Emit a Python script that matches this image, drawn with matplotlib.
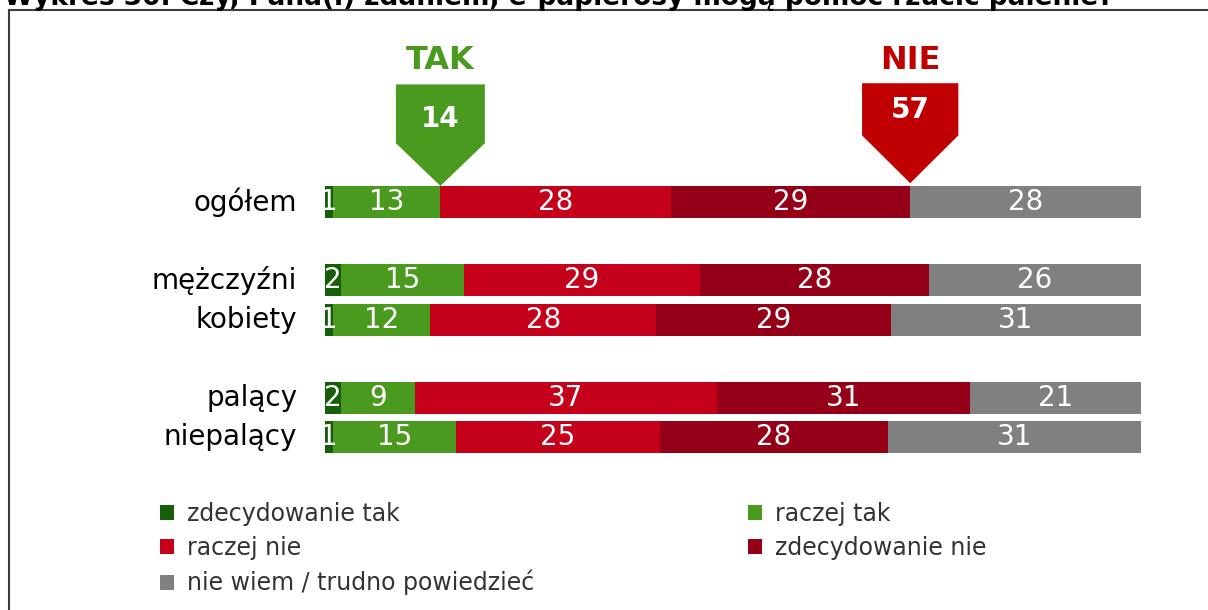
import matplotlib.pyplot as plt
import numpy as np
from matplotlib.patches import Polygon, Patch
from matplotlib.lines import Line2D

plt.rcParams['font.family'] = ['DejaVu Sans']

title = 'Wykres 30. Czy, Pana(i) zdaniem, e-papierosy mogą pomóc rzucić palenie?'
groups = ['ogółem', 'mężczyźni', 'kobiety', 'palący', 'niepalący']
rows = [0, 2, 3, 5, 6]
answers = ['zdecydowanie tak', 'raczej tak', 'raczej nie',
           'zdecydowanie nie', 'nie wiem / trudno powiedzieć']
colors = ['#175e0b', '#4a9a20', '#c4001a', '#950018', '#808080']
values = np.array([
    [1, 13, 28, 29, 28],
    [2, 15, 29, 28, 26],
    [1, 12, 28, 29, 31],
    [2, 9, 37, 31, 21],
    [1, 15, 25, 28, 31],
])

W, H = 1208, 610
fig = plt.figure(figsize=(W / 100, H / 100), dpi=100)
ax = fig.add_axes([325 / W, (H - 476.4) / H, 816 / W, 313.6 / H])
ax.set_xlim(0, 100)
ax.set_ylim(7, -1)
ax.axis('off')

# stacked bars, each row scaled to 100%
shares = values / values.sum(axis=1, keepdims=True) * 100
for r, (row, sh, val) in enumerate(zip(rows, shares, values)):
    left = 0
    for k in range(len(answers)):
        ax.barh(row, sh[k], left=left, height=0.82, color=colors[k], edgecolor='none')
        ax.text(left + sh[k] / 2, row, str(val[k]), ha='center', va='center',
                color='white', fontsize=20)
        left += sh[k]
    ax.text(-3.4, row, groups[r], ha='right', va='center', fontsize=20, color='black')

# TAK / NIE markers on the first row
cum = np.cumsum(shares[0])
tak_total = values[0, :2].sum()
nie_total = values[0, 2:4].sum()
markers = [
    (cum[1], 5.45, -3.0, -1.5, -0.41, '#4a9a20', 'TAK', tak_total, -2.12),
    (cum[3], 5.9, -3.03, -1.7, -0.48, '#c00000', 'NIE', nie_total, -2.35),
]
for x, hw, top, sh_y, tip, col, lab, tot, ny in markers:
    poly = Polygon([(x - hw, top), (x + hw, top), (x + hw, sh_y), (x, tip), (x - hw, sh_y)],
                   closed=True, facecolor=col, edgecolor='none', clip_on=False)
    ax.add_patch(poly)
    ax.text(x, -3.62, lab, ha='center', va='center', color=col, fontsize=23,
            fontweight='bold', clip_on=False)
    ax.text(x, ny, str(tot), ha='center', va='center', color='white', fontsize=20,
            fontweight='bold', clip_on=False)

# cut-off title and frame
fig.text(4 / W, 1 - 5 / H, title, ha='left', va='baseline', fontsize=19,
         fontweight='bold', color='black')
fig.add_artist(Line2D([9 / W, 9 / W], [0, 1 - 10 / H], color='#3c3c3c', lw=1.5))
fig.add_artist(Line2D([9 / W, 1], [1 - 10 / H, 1 - 10 / H], color='#3c3c3c', lw=1.5))

order = [0, 2, 4, 1, 3]
handles = [Patch(facecolor=colors[i], edgecolor='none') for i in order]
labels = [answers[i] for i in order]
fig.legend(handles, labels, loc='upper left', bbox_to_anchor=(160 / W, 1 - 502 / H),
           ncol=2, frameon=False, fontsize=17, handlelength=0.6, handleheight=0.6,
           handletextpad=0.55, columnspacing=9.05, labelspacing=0.42, labelcolor='#333333',
           borderaxespad=0, borderpad=0)

fig.savefig('out.png', dpi=100)
